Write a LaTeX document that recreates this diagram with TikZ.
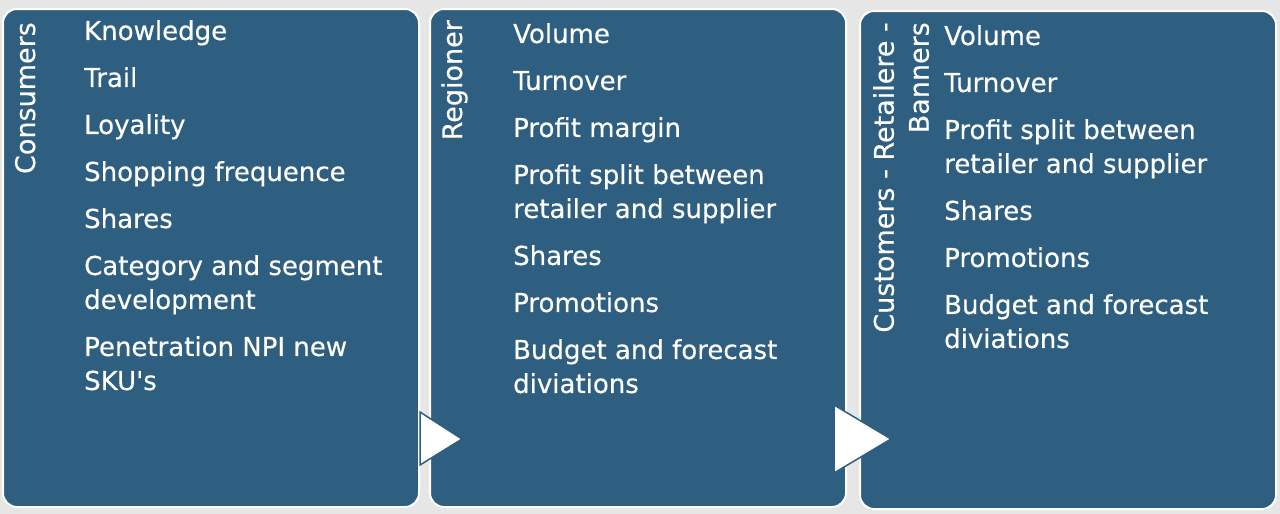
\documentclass[tikz,border=0pt]{standalone}
\usepackage{fontspec}
\setmainfont{DejaVu Sans}[UprightFeatures={FakeBold=0.4}]
\usetikzlibrary{calc}
\definecolor{pnlblue}{HTML}{2E5E80}
\definecolor{pagegray}{HTML}{E6E6E6}
\newcommand{\listfont}{\fontsize{26}{34}\selectfont}
\newcommand{\sidefont}{\fontsize{27}{35}\selectfont}
\tikzset{
  panel/.style={fill=pnlblue,draw=white,line width=2pt,rounded corners=14pt,anchor=north west,minimum width=416pt,minimum height=498pt,inner sep=0pt},
  items/.style={text=white,align=left,anchor=north west,inner sep=0pt,font=\listfont},
  vlabel/.style={text=white,rotate=90,inner sep=0pt,font=\sidefont},
  flow/.style={fill=white,draw=pnlblue,line width=1.5pt,line join=miter},
}
\begin{document}
\begin{tikzpicture}[x=1pt,y=-1pt]
  \fill[pagegray] (0,0) rectangle (1280,514);
  \useasboundingbox (0,0) rectangle (1280,514);
  % three panels
  \node[panel] (cons) at (2,8) {};
  \node[panel] (reg) at (429,8) {};
  \node[panel] (cust) at (859,10) {};
  % flow triangles
  \draw[flow] ($(cons.south east)+(0,-96)$) -- ($(cons.south east)+(42,-69)$) -- ($(cons.south east)+(0,-43)$) -- cycle;
  \draw[flow] ($(reg.south east)+(-13,-103)$) -- ($(reg.south east)+(44,-69)$) -- ($(reg.south east)+(-13,-35)$) -- cycle;
  % side labels
  \node[vlabel,anchor=base east] (consl) at (35,22) {Consumers};
  \node[vlabel,anchor=base east] (regl) at (462,20) {Regioner};
  \node[vlabel,align=right,anchor=north east] (custl) at (873,22) {Customers - Retailere -\\Banners};
  % item lists
  \node[items] (consi) at (84,20) {Knowledge\\[13pt]Trail\\[13pt]Loyality\\[13pt]Shopping frequence\\[13pt]Shares\\[13pt]Category and segment\\development\\[13pt]Penetration NPI new\\SKU\textquotesingle s};
  \node[items] (regi) at (513,23) {Volume\\[13pt]Turnover\\[13pt]Profit margin\\[13pt]Profit split between\\retailer and supplier\\[13pt]Shares\\[13pt]Promotions\\[13pt]Budget and forecast\\diviations};
  \node[items] (custi) at (944,25) {Volume\\[13pt]Turnover\\[13pt]Profit split between\\retailer and supplier\\[13pt]Shares\\[13pt]Promotions\\[13pt]Budget and forecast\\diviations};
\end{tikzpicture}
\end{document}
